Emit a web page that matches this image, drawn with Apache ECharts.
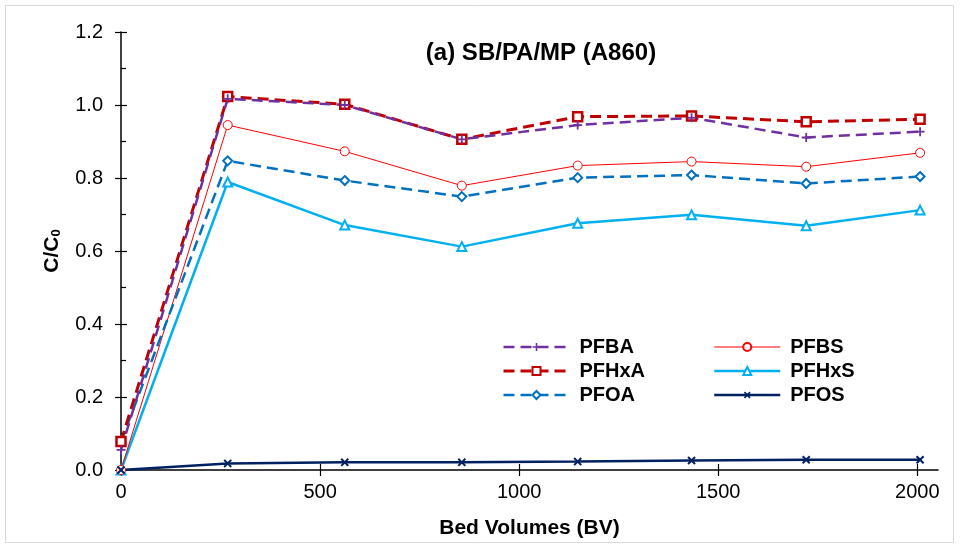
<!DOCTYPE html>
<html>
<head>
<meta charset="utf-8">
<script src="https://cdn.jsdelivr.net/npm/echarts@6/dist/echarts.min.js"></script>
<style>html,body{margin:0;padding:0;background:#fff}#c{width:960px;height:548px}</style>
</head>
<body>
<div id="c"></div>
<script>
const bedVolumes = [0, 268, 562, 856, 1147, 1433, 1721, 2007];
const pfba  = [0.055, 1.017, 1.000, 0.906, 0.945, 0.965, 0.911, 0.927];
const pfhxa = [0.078, 1.023, 1.002, 0.906, 0.968, 0.970, 0.954, 0.961];
const pfoa  = [0.078, 0.847, 0.793, 0.749, 0.801, 0.808, 0.785, 0.804];
const pfbs  = [0.000, 0.945, 0.873, 0.779, 0.834, 0.845, 0.831, 0.869];
const pfhxs = [0.000, 0.789, 0.671, 0.612, 0.676, 0.699, 0.669, 0.712];
const pfos  = [0.000, 0.018, 0.021, 0.021, 0.023, 0.026, 0.028, 0.028];
const xTicks = [0, 500, 1000, 1500, 2000];

const FONT = '"Liberation Sans", Arial, sans-serif';
const PLUS = 'path://M4,0H6V4H10V6H6V10H4V6H0V4H4Z';
function pts(ys){ return bedVolumes.map((x,i)=>[x, ys[i]]); }
function ser(name, ys, color, opt){
  return {
    name, type:'line', data: pts(ys), xAxisIndex:0, yAxisIndex:0,
    lineStyle:{color, width:opt.lw, type:opt.dash ? [11,6] : 'solid'},
    symbol: opt.symbol, symbolSize: opt.size, symbolRotate: opt.rot || 0,
    itemStyle:{color: opt.fill || '#fff', borderColor: color, borderWidth: opt.bw},
    emphasis:{disabled:true}, animation:false
  };
}
const series = [
  ser('PFHxS', pfhxs, '#00B0F0', {lw:2.5, symbol:'triangle', size:9, bw:2}),
  ser('PFBS', pfbs, '#FF0000', {lw:1, symbol:'circle', size:9, bw:1}),
  ser('PFOA', pfoa, '#0070C0', {lw:2.5, dash:true, symbol:'diamond', size:9, bw:2}),
  ser('PFHxA', pfhxa, '#C00000', {lw:3, dash:true, symbol:'rect', size:9, bw:2.5}),
  ser('PFBA', pfba, '#7030A0', {lw:2.5, dash:true, symbol:PLUS, size:9, bw:0, fill:'#7030A0'}),
  ser('PFOS', pfos, '#002060', {lw:2.5, symbol:PLUS, size:10, rot:45, bw:0, fill:'#002060'})
];
const legendBase = {
  orient:'vertical', itemWidth:66, itemHeight:10, itemGap:4, padding:0,
  lineStyle:{width:'inherit'},
  textStyle:{fontFamily:FONT, fontWeight:'bold', fontSize:20, color:'#000', lineHeight:20, padding:[0,0,0,5]},
  selectedMode:false
};
const option = {
  animation:false,
  title:{text:'(a) SB/PA/MP (A860)', left:536, top:36, textAlign:'center',
    textStyle:{fontFamily:FONT, fontWeight:'bold', fontSize:24, color:'#000'}},
  grid:{left:121, right:22, top:32, bottom:78, containLabel:false},
  legend:[
    Object.assign({data:['PFBA','PFHxA','PFOA'], left:502, top:337}, legendBase),
    Object.assign({data:['PFBS','PFHxS','PFOS'], left:713, top:337}, legendBase)
  ],
  xAxis:[{
    type:'value', min:0, max:2052,
    name:'Bed Volumes (BV)', nameLocation:'middle', nameGap:48,
    nameTextStyle:{fontFamily:FONT, fontWeight:'bold', fontSize:21, color:'#000'},
    axisLine:{show:true, onZero:false, lineStyle:{color:'#000', width:1.5}},
    axisTick:{show:true, inside:false, length:6, customValues:xTicks, lineStyle:{color:'#000', width:1.2}},
    axisLabel:{customValues:xTicks, margin:12, fontFamily:FONT, fontSize:20, color:'#000', formatter:v=>String(v)},
    splitLine:{show:false}
  },{
    type:'value', min:0, max:2052, position:'bottom',
    axisLine:{show:false},
    axisTick:{show:true, inside:true, length:6, customValues:xTicks, lineStyle:{color:'#000', width:1.2}},
    axisLabel:{show:false}, splitLine:{show:false}
  }],
  yAxis:[{
    type:'value', min:0, max:1.2, interval:0.2,
    name:'C/C{sub|0}', nameLocation:'middle', nameGap:58, nameRotate:90,
    nameTextStyle:{fontFamily:FONT, fontWeight:'bold', fontSize:21, color:'#000',
      rich:{sub:{fontFamily:FONT, fontWeight:'bold', fontSize:13, color:'#000', verticalAlign:'bottom', padding:[8,0,0,0]}}},
    axisLine:{show:true, onZero:false, lineStyle:{color:'#000', width:1.5}},
    axisTick:{show:true, inside:false, length:6, lineStyle:{color:'#000', width:1.2}},
    axisLabel:{margin:18, fontFamily:FONT, fontSize:20, color:'#000', formatter:v=>v.toFixed(1)},
    splitLine:{show:false}
  },{
    type:'value', min:0, max:1.2, interval:0.2, position:'left',
    axisLine:{show:false},
    axisTick:{show:true, inside:true, length:6, lineStyle:{color:'#000', width:1.2}},
    minorTick:{show:true, splitNumber:2, length:5, lineStyle:{color:'#000', width:1.2}},
    axisLabel:{show:false}, splitLine:{show:false}
  }],
  graphic:[{type:'rect', shape:{x:5.5, y:5.5, width:948, height:537}, style:{fill:null, stroke:'#d9d9d9', lineWidth:1}, silent:true, z:-1}],
  series
};
const chart = echarts.init(document.getElementById('c'), null, {renderer:'canvas'});
chart.setOption(option);
</script>
</body>
</html>
